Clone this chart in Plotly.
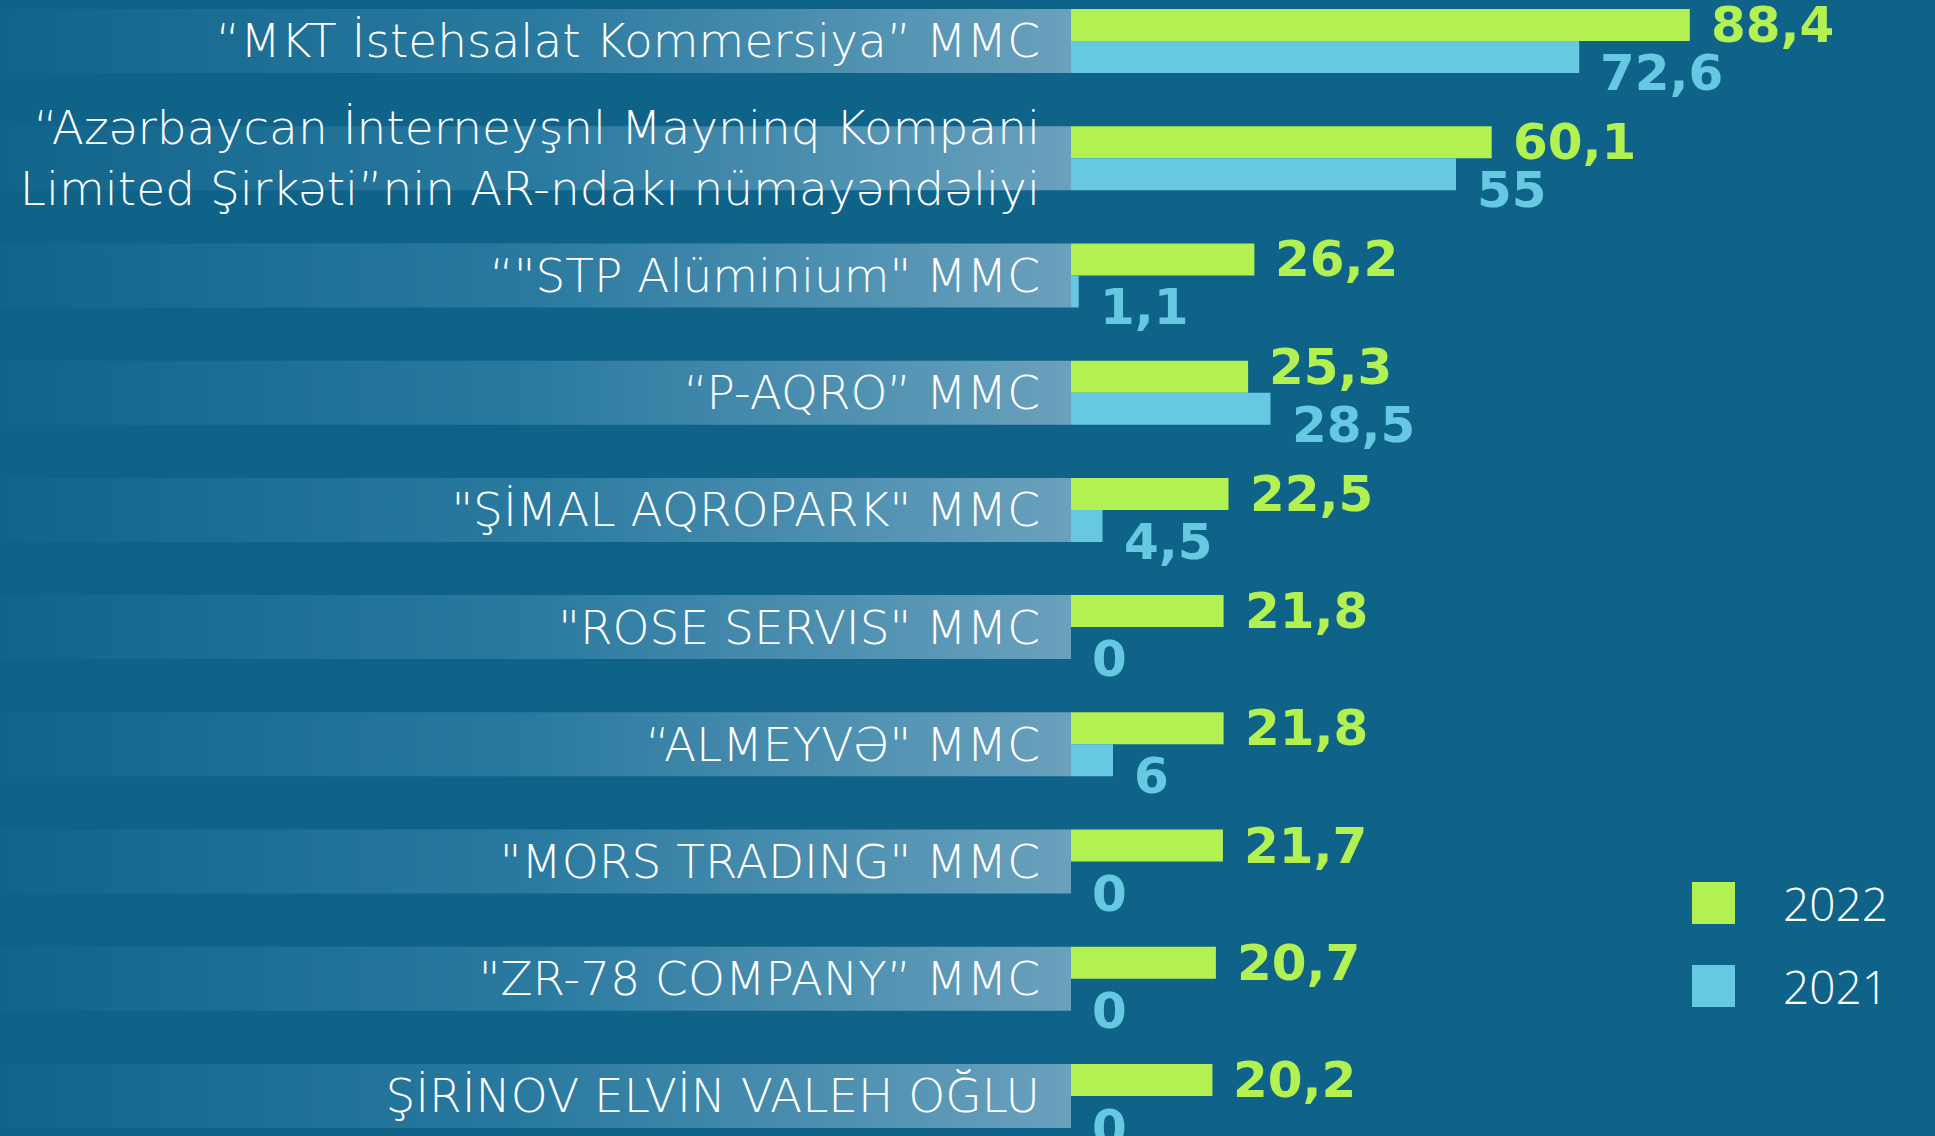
import plotly.graph_objects as go

# ---- data ----
categories = [
    "“MKT İstehsalat Kommersiya” MMC",
    "“Azərbaycan İnterneyşnl Mayninq Kompani<br>Limited Şirkəti”nin AR-ndakı nümayəndəliyi",
    "“\"STP Alüminium\" MMC",
    "“P-AQRO” MMC",
    "\"ŞİMAL AQROPARK\" MMC",
    "\"ROSE SERVIS\" MMC",
    "“ALMEYVƏ\" MMC",
    "\"MORS TRADING\" MMC",
    "\"ZR-78 COMPANY” MMC",
    "ŞİRİNOV ELVİN VALEH OĞLU",
]
values_2022 = [88.4, 60.1, 26.2, 25.3, 22.5, 21.8, 21.8, 21.7, 20.7, 20.2]
values_2021 = [72.6, 55, 1.1, 28.5, 4.5, 0, 6, 0, 0, 0]
series_names = ["2022", "2021"]

# ---- style ----
W, H = 1935, 1136
BG = "#0f6389"
GREEN = "#b3f153"
BLUE = "#66c9e1"
PX_PER_UNIT = 7.0
AXIS_PX = 1071
X_MIN = -AXIS_PX / PX_PER_UNIT
X_MAX = (W - AXIS_PX) / PX_PER_UNIT
ROW_PX = 117.2
Y_TOP = -41 / ROW_PX
Y_BOT = (len(categories) - 1) + (H - 1096) / ROW_PX
BAR_FRAC = 64 / ROW_PX
HALF = BAR_FRAC / 2


def fmt(v):
    if float(v).is_integer():
        return str(int(v))
    return f"{v}".replace(".", ",")


idx = list(range(len(categories)))

fig = go.Figure()

# label bands (gradient)
bx, by = [], []
for i in idx:
    bx += [X_MIN, 0, 0, X_MIN, X_MIN, None]
    by += [i - HALF, i - HALF, i + HALF, i + HALF, i - HALF, None]
fig.add_trace(go.Scatter(
    x=bx, y=by, mode="lines", fill="toself", line=dict(width=0),
    fillgradient=dict(type="horizontal",
                      colorscale=[[0, "#12648b"], [0.5, "#2a7aa0"], [1, "#6aa1bd"]]),
    hoverinfo="skip", showlegend=False,
))

fig.add_trace(go.Bar(y=idx, x=values_2022, orientation="h", name=series_names[0],
                     marker=dict(color=GREEN, line=dict(width=0)), showlegend=False,
                     hoverinfo="skip"))
fig.add_trace(go.Bar(y=idx, x=values_2021, orientation="h", name=series_names[1],
                     marker=dict(color=BLUE, line=dict(width=0)), showlegend=False,
                     hoverinfo="skip"))

annotations = []
num_font = dict(family="DejaVu Sans", size=50, weight="bold")
for i in idx:
    # raise the 2022 label when the 2021 bar is longer (its label sits right below)
    g_shift = 10 if values_2021[i] > values_2022[i] else 0
    annotations.append(dict(
        x=values_2022[i], y=i - HALF / 2, xref="x", yref="y", text=fmt(values_2022[i]),
        showarrow=False, xanchor="left", yanchor="middle", xshift=19, yshift=g_shift,
        font=dict(num_font, color=GREEN)))
    annotations.append(dict(
        x=values_2021[i], y=i + HALF / 2, xref="x", yref="y", text=fmt(values_2021[i]),
        showarrow=False, xanchor="left", yanchor="middle", xshift=19, yshift=-16,
        font=dict(num_font, color=BLUE)))

# custom legend
legend_items = [(series_names[0], GREEN, 0.205), (series_names[1], BLUE, 0.132)]
shapes = []
for name, col, yc in legend_items:
    shapes.append(dict(type="rect", xref="paper", yref="paper",
                       x0=1692 / W, x1=1735 / W, y0=yc - 21 / H, y1=yc + 21 / H,
                       fillcolor=col, line=dict(width=0)))
    annotations.append(dict(x=1781 / W, y=yc, xref="paper", yref="paper", text=name,
                            showarrow=False, xanchor="left", yanchor="middle",
                            font=dict(family="Open Sans", size=46, color="white", weight=300)))

fig.update_layout(
    width=W, height=H,
    margin=dict(l=0, r=0, t=0, b=0),
    paper_bgcolor=BG, plot_bgcolor=BG,
    barmode="group", bargap=1 - BAR_FRAC, bargroupgap=0,
    showlegend=False,
    xaxis=dict(range=[X_MIN, X_MAX], visible=False, fixedrange=True),
    yaxis=dict(range=[Y_BOT, Y_TOP], tickmode="array", tickvals=idx, ticktext=categories,
               anchor="free", position=AXIS_PX / W, side="left", fixedrange=True,
               showgrid=False, zeroline=False, showline=False, ticks="",
               ticklabelstandoff=31,
               tickfont=dict(family="DejaVu Sans", size=47, color="white", weight=300)),
    annotations=annotations, shapes=shapes,
)

fig.write_html("out.html", config={"displayModeBar": False},
               post_script="document.body.style.margin='0';document.body.style.overflow='hidden';")
